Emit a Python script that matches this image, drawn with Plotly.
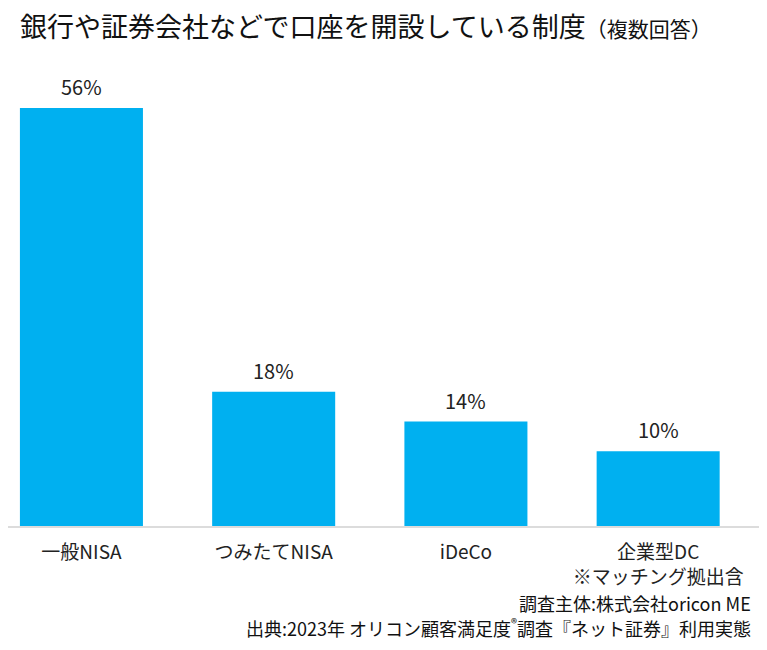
import plotly.graph_objects as go

# data
categories = ["一般NISA", "つみたてNISA", "iDeCo", "企業型DC<br>※マッチング拠出含"]
values = [56, 18, 14, 10]
value_labels = ["56%", "18%", "14%", "10%"]

title_main = "銀行や証券会社などで口座を開設している制度"
title_sub = "（複数回答）"
footer_lines = ["調査主体:株式会社oricon ME",
                "出典:2023年 オリコン顧客満足度<sup>®</sup>調査『ネット証券』利用実態"]

FONT = "Noto Sans CJK JP"
BLUE = "#00B0F0"
x_pos = list(range(len(categories)))

fig = go.Figure(go.Bar(
    x=x_pos, y=values, width=0.64,
    marker=dict(color=BLUE, line=dict(width=0)),
    hoverinfo="skip",
))

# value labels above bars
for xi, v, lab in zip(x_pos, values, value_labels):
    fig.add_annotation(x=xi, y=v, text=lab, showarrow=False,
                       yanchor="bottom", yshift=5,
                       font=dict(family=FONT, size=20, color="#222222"))

fig.update_layout(
    width=767, height=650,
    margin=dict(l=0, r=14, t=70, b=132),
    paper_bgcolor="white", plot_bgcolor="white",
    showlegend=False,
    font=dict(family=FONT, size=17, color="#222222"),
    xaxis=dict(
        range=[-0.382, 3.535],
        tickvals=x_pos, ticktext=categories,
        showgrid=False, zeroline=False,
        showline=True, linecolor="#dcdcdc", linewidth=2,
        ticks="", ticklabelstandoff=8,
        tickfont=dict(family=FONT, size=19, color="#222222"),
        fixedrange=True,
    ),
    yaxis=dict(range=[0, 60.02], visible=False, fixedrange=True),
)

fig.add_annotation(
    xref="paper", yref="paper", x=0, y=1, xanchor="left", yanchor="middle",
    xshift=10, yshift=53,
    text=title_main + "<span style='font-size:21px'>" + title_sub + "</span>",
    showarrow=False, font=dict(family=FONT, size=27, color="#111111"),
)

for i, line in enumerate(footer_lines):
    fig.add_annotation(
        xref="paper", yref="paper", x=1, y=0, xanchor="right", yanchor="middle",
        xshift=-8, yshift=-77 - 24 * i,
        text=line, showarrow=False,
        font=dict(family=FONT, size=18, color="#111111"),
    )

fig.write_html("out.html")
